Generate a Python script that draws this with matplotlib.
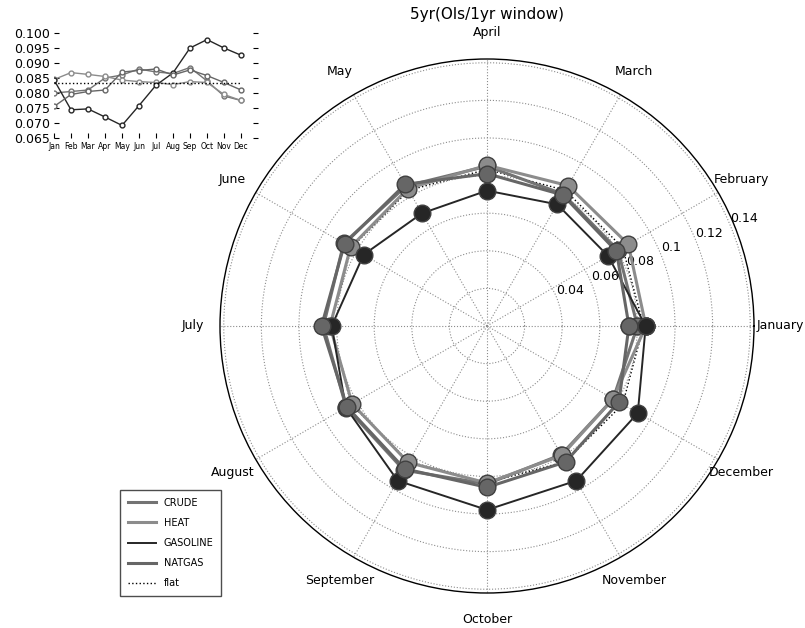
import numpy as np
import matplotlib
matplotlib.use('Agg')
import matplotlib.pyplot as plt
from matplotlib.lines import Line2D

months = ['January', 'February', 'March', 'April', 'May', 'June', 'July',
          'August', 'September', 'October', 'November', 'December']
month_abbr = ['Jan', 'Feb', 'Mar', 'Apr', 'May', 'Jun', 'Jul', 'Aug',
              'Sep', 'Oct', 'Nov', 'Dec']

crude = [0.0800, 0.0805, 0.0810, 0.0850, 0.0860, 0.0880, 0.0870, 0.0865,
         0.0885, 0.0840, 0.0790, 0.0775]
heat = [0.0845, 0.0868, 0.0862, 0.0855, 0.0843, 0.0838, 0.0835, 0.0828,
        0.0838, 0.0835, 0.0795, 0.0775]
gasoline = [0.0844, 0.0744, 0.0747, 0.0720, 0.0692, 0.0758, 0.0826, 0.0867,
            0.0950, 0.0978, 0.0950, 0.0926]
natgas = [0.0755, 0.0795, 0.0805, 0.0810, 0.0870, 0.0875, 0.0880, 0.0860,
          0.0877, 0.0858, 0.0835, 0.0810]
flat = [0.0833] * 12

r_ticks = [0.02, 0.04, 0.06, 0.08, 0.10, 0.12, 0.14]
r_labels = ['', '0.04', '0.06', '0.08', '0.1', '0.12', '0.14']
inset_yticks = [0.065, 0.070, 0.075, 0.080, 0.085, 0.090, 0.095, 0.100]

series = [
    ('CRUDE', crude, '0.45', 2.2),
    ('HEAT', heat, '0.55', 2.2),
    ('GASOLINE', gasoline, '0.15', 1.4),
    ('NATGAS', natgas, '0.40', 2.2),
]

fig = plt.figure(figsize=(8.05, 6.28), dpi=100)

# ---- polar chart ----
ax = fig.add_axes([220 / 805, 35 / 628, 534 / 805, 534 / 628], projection='polar')
theta = np.deg2rad(np.arange(12) * 30.0)
th_closed = np.append(theta, theta[0])
for name, vals, col, lw in series:
    v = np.append(vals, vals[0])
    ax.plot(th_closed, v, color=col, lw=lw, marker='o', ms=12,
            mfc=col, mec='0.25', mew=1.0, zorder=3)
ax.plot(th_closed, np.append(flat, flat[0]), color='k', ls=':', lw=1, zorder=2)
ax.set_ylim(0, 0.142)
ax.set_yticks(r_ticks)
ax.set_yticklabels(r_labels, fontsize=9)
ax.set_rlabel_position(22.5)
ax.set_xticks(theta)
ax.set_xticklabels([])
ax.grid(True, color='0.55', ls=':', lw=0.8)
ax.spines['polar'].set_color('k')
ax.spines['polar'].set_linewidth(1.0)
for t, m in zip(theta, months):
    ax.text(0.5 + 0.55 * np.cos(t), 0.5 + 0.55 * np.sin(t), m,
            transform=ax.transAxes, ha='center', va='center', fontsize=9)

fig.text(487 / 805, 1 - 15 / 628, '5yr(Ols/1yr window)', ha='center',
         va='center', fontsize=11)

handles = [Line2D([], [], color=col, lw=lw) for _, _, col, lw in series]
handles.append(Line2D([], [], color='k', ls=':', lw=1))
labels = [s[0] for s in series] + ['flat']
fig.legend(handles, labels, loc='upper left',
           bbox_to_anchor=(115 / 805, 1 - 485 / 628), fontsize=7,
           handlelength=2.9, labelspacing=1.05, fancybox=False,
           edgecolor='0.3', framealpha=1, borderpad=0.8)

# ---- inset line chart ----
ax2 = fig.add_axes([54 / 805, (628 - 138) / 628, 204 / 805, 105 / 628])
x = np.arange(12)
for name, vals, col, lw in series:
    ax2.plot(x, vals, color=col, lw=1.0, marker='o', ms=3.5, mfc='white',
             mec=col, mew=1.0)
ax2.plot(x, flat, color='k', ls=':', lw=1)
ax2.set_xlim(0, 12)
ax2.set_ylim(0.065, 0.100)
ax2.set_yticks(inset_yticks)
ax2.set_yticklabels(['%.3f' % v for v in inset_yticks], fontsize=9)
ax2.set_xticks(x)
ax2.set_xticklabels(month_abbr, fontsize=5.5)
ax2.set_frame_on(False)
ax2.tick_params(direction='in', right=True, length=3.5, pad=3, width=0.8)

fig.savefig('out.png', dpi=100)
